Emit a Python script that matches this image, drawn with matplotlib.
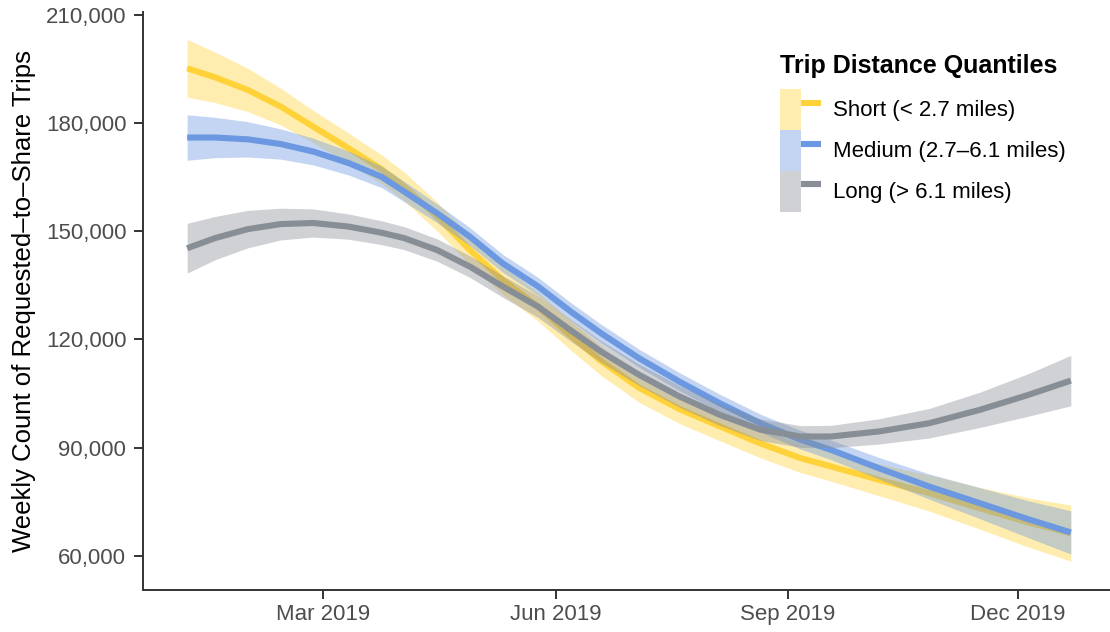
import matplotlib
matplotlib.use("Agg")
import matplotlib.pyplot as plt
import matplotlib.dates as mdates
import numpy as np
from matplotlib.lines import Line2D
from matplotlib.patches import Patch
from matplotlib.ticker import FuncFormatter
from matplotlib.legend_handler import HandlerTuple

plt.rcParams['font.family'] = ['Liberation Sans', 'DejaVu Sans']

# smoothed weekly counts (fit +/- half band)
dates = np.array(['2019-01-06', '2019-01-17', '2019-01-30', '2019-02-12', '2019-02-25',
                  '2019-03-11', '2019-03-24', '2019-04-02', '2019-04-15', '2019-04-28',
                  '2019-05-11', '2019-05-25', '2019-06-07', '2019-06-19', '2019-07-04',
                  '2019-07-20', '2019-08-05', '2019-08-21', '2019-09-06', '2019-09-18',
                  '2019-10-07', '2019-10-27', '2019-11-16', '2019-12-05', '2019-12-22'],
                 dtype='datetime64[D]')

short_fit = [195200, 192700, 189200, 184600, 179000, 173000, 167200, 162400, 154100, 144800,
             136500, 129100, 121000, 114000, 106600, 100700, 95900, 91200, 87100, 84800,
             81100, 77400, 73200, 69300, 66300]
short_se = [8000, 7000, 6000, 5100, 4500, 4200, 4000, 4000, 4000, 4000,
            4000, 4000, 4000, 4000, 4000, 4000, 4000, 4000, 4000, 4100,
            4400, 5000, 5800, 6800, 7800]

medium_fit = [176000, 176000, 175500, 174200, 172100, 168900, 165100, 161000, 155000, 148500,
              141100, 134700, 127700, 121700, 114800, 108300, 102300, 96800, 92200, 89400,
              84300, 79200, 74600, 70200, 66500]
medium_se = [6300, 5600, 4900, 4200, 3700, 3300, 3000, 2800, 2600, 2500,
             2500, 2500, 2500, 2500, 2500, 2500, 2500, 2500, 2600, 2700,
             3000, 3500, 4300, 5100, 6000]

long_fit = [145300, 148100, 150600, 152000, 152300, 151300, 149600, 148100, 144800, 140200,
            134700, 129100, 122500, 116600, 110200, 104200, 99100, 95000, 93100, 93100,
            94500, 96800, 100500, 104600, 108600]
long_se = [6900, 6000, 5200, 4400, 3900, 3500, 3300, 3200, 3100, 3000,
           3000, 3000, 3000, 3000, 3000, 3000, 3000, 3000, 3000, 3100,
           3500, 4100, 4900, 5900, 7000]

labels = ['Short (< 2.7 miles)', 'Medium (2.7–6.1 miles)', 'Long (> 6.1 miles)']
colors = ['#FFD23A', '#6B98E0', '#878E95']

fig = plt.figure(figsize=(11.1, 6.32), dpi=100)
ax = fig.add_axes([0.1288, 0.0665, 0.8757, 0.9145])

x = dates.astype(object)
series = [(short_fit, short_se), (medium_fit, medium_se), (long_fit, long_se)]
handles = []
for i, ((fit, se), col) in enumerate(zip(series, colors)):
    fit = np.array(fit)
    se = np.array(se)
    ax.fill_between(x, fit - se, fit + se, color=col, alpha=0.4, lw=0, zorder=2 + 2 * i)
    ax.plot(x, fit, color=col, lw=4.4, solid_capstyle='butt', solid_joinstyle='round',
            zorder=3 + 2 * i)
    handles.append((Patch(facecolor=col, alpha=0.4, lw=0),
                    Line2D([], [], color=col, lw=4.4, solid_capstyle='butt')))

pad = (dates[-1] - dates[0]).astype(int) * 0.05
ax.set_xlim(mdates.date2num(x[0]) - pad, mdates.date2num(x[-1]) + pad)
ax.set_ylim(50550, 210800)

ax.set_yticks([60000, 90000, 120000, 150000, 180000, 210000])
ax.yaxis.set_major_formatter(FuncFormatter(lambda v, p: f'{int(v):,}'))
tick_dates = np.array(['2019-03-01', '2019-06-01', '2019-09-01', '2019-12-01'], dtype='datetime64[D]')
ax.set_xticks(mdates.date2num(tick_dates.astype(object)))
ax.set_xticklabels(['Mar 2019', 'Jun 2019', 'Sep 2019', 'Dec 2019'])

for s in ['top', 'right']:
    ax.spines[s].set_visible(False)
for s in ['left', 'bottom']:
    ax.spines[s].set_linewidth(1.4)
    ax.spines[s].set_color('#333333')
ax.tick_params(axis='both', length=6.5, width=1.4, color='#333333',
               labelsize=16, labelcolor='#4D4D4D')
ax.tick_params(axis='y', pad=5.5)
ax.tick_params(axis='x', pad=3.5)

ax.set_ylabel('Weekly Count of Requested–to–Share Trips', fontsize=18.5, labelpad=7)

leg = ax.legend(handles, labels, title='Trip Distance Quantiles', loc='upper left',
                bbox_to_anchor=(780 / 1110, 1 - 54 / 632), bbox_transform=fig.transFigure,
                frameon=False, fontsize=16, title_fontproperties={'weight': 'bold', 'size': 18},
                handler_map={tuple: HandlerTuple(ndivide=None, pad=0)},
                handlelength=1.85, handleheight=2.45, labelspacing=0, handletextpad=0.55,
                borderpad=0, borderaxespad=0, alignment='left')
leg._legend_box.sep = 8

fig.savefig('out.png', dpi=100)
